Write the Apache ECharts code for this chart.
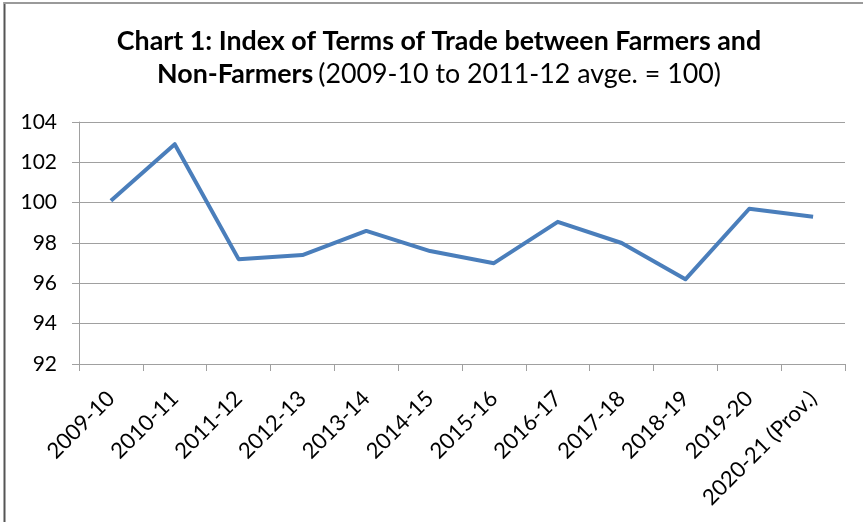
<!DOCTYPE html>
<html>
<head>
<meta charset="utf-8">
<script src="https://cdn.jsdelivr.net/npm/echarts@6/dist/echarts.min.js"></script>
<style>
html,body{margin:0;padding:0;background:#fff;}
#chart{width:863px;height:522px;}
</style>
</head>
<body>
<div id="chart"></div>
<script>
const categories = ['2009-10','2010-11','2011-12','2012-13','2013-14','2014-15','2015-16','2016-17','2017-18','2018-19','2019-20','2020-21 (Prov.)'];
const indexValues = [100.1, 102.9, 97.2, 97.4, 98.6, 97.6, 97.0, 99.05, 98.0, 96.2, 99.7, 99.3];
const yTicks = {min: 92, max: 104, interval: 2};

const FONT = 'Lato, "Open Sans", sans-serif';
const chart = echarts.init(document.getElementById('chart'), null, {renderer: 'canvas'});
chart.setOption({
  backgroundColor: '#fff',
  animation: false,
  title: {
    text: '{b|Chart 1: Index of Terms of Trade between Farmers and}\n{b|Non-Farmers} {n|(2009-10 to 2011-12 avge. = 100)}',
    left: 434,
    textAlign: 'center',
    top: 20,
    textStyle: {
      rich: {
        b: {fontFamily: FONT, fontWeight: 'bold', fontSize: 26.8, color: '#000', lineHeight: 33},
        n: {fontFamily: FONT, fontWeight: 'normal', fontSize: 26.8, color: '#000', lineHeight: 33}
      }
    }
  },
  graphic: [
    {type: 'line', shape: {x1: 4.5, y1: 2, x2: 4.5, y2: 522}, style: {stroke: '#555', lineWidth: 2}},
    {type: 'line', shape: {x1: 4, y1: 3, x2: 863, y2: 3}, style: {stroke: '#9a9a9a', lineWidth: 2}}
  ],
  grid: {left: 79, right: 18, top: 122, bottom: 158, containLabel: false},
  xAxis: {
    type: 'category',
    data: categories,
    boundaryGap: true,
    axisLine: {lineStyle: {color: '#a0a0a0', width: 1}},
    axisTick: {show: true, alignWithLabel: false, length: 7, lineStyle: {color: '#a0a0a0'}},
    axisLabel: {rotate: 45, interval: 0, fontFamily: FONT, fontSize: 22, color: '#000', margin: 31}
  },
  yAxis: {
    type: 'value',
    min: yTicks.min, max: yTicks.max, interval: yTicks.interval,
    axisLine: {show: true, lineStyle: {color: '#a0a0a0', width: 1}},
    axisTick: {show: true, length: 7, lineStyle: {color: '#a0a0a0'}},
    splitLine: {show: true, lineStyle: {color: '#a0a0a0', width: 1}},
    axisLabel: {fontFamily: FONT, fontSize: 21, color: '#000', margin: 22}
  },
  series: [{
    type: 'line',
    data: indexValues,
    symbol: 'none',
    lineStyle: {color: '#4a7ebb', width: 4, join: 'round'},
    itemStyle: {color: '#4a7ebb'}
  }]
});
</script>
</body>
</html>
